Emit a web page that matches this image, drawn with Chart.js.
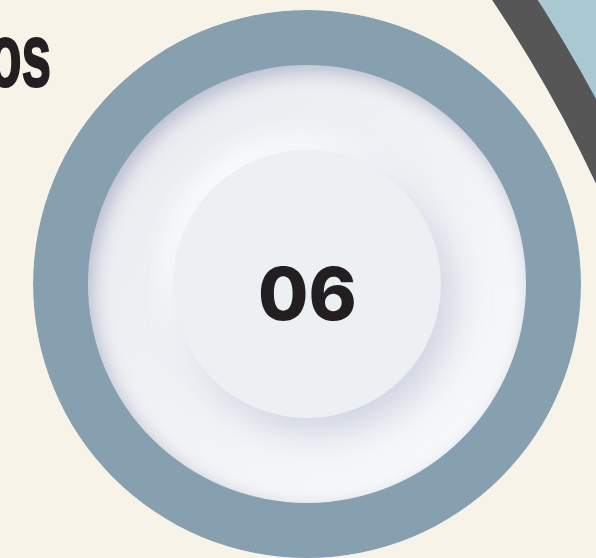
<!DOCTYPE html>
<html>
<head>
<meta charset="utf-8">
<script src="https://cdn.jsdelivr.net/npm/chart.js@4.4.1/dist/chart.umd.min.js"></script>
<style>
  html, body { margin: 0; padding: 0; }
  body { width: 596px; height: 558px; overflow: hidden; position: relative; background: #a9c8d2; }
  #bgChart { position: absolute; left: -2109px; top: -659px; }
  #dishChart { position: absolute; left: 33px; top: 10px; }
  .title-tail {
    position: absolute; left: -11px; top: 11px;
    font: bold 89px 'Liberation Sans Narrow', sans-serif; line-height: 1;
    color: #231f20; white-space: nowrap;
    transform: scaleX(0.6); transform-origin: 0 0;
    -webkit-text-stroke: 2px #231f20;
  }
</style>
</head>
<body>
<canvas id="bgChart" width="2876" height="2876"></canvas>
<canvas id="dishChart" width="548" height="548"></canvas>
<div class="title-tail" id="titleTail"></div>
<script>
'use strict';
// values
const titleTail = 'os'
const stepLabel = '06'
const bgLabels = ['Band']
const bgValues = [100]
const dishLabels = ['Step']
const dishValues = [100]

document.getElementById('titleTail').textContent = titleTail

const noChrome = {
  responsive: false,
  animation: false,
  events: [],
  cutout: 0,
  layout: { padding: 0 },
  plugins: { legend: { display: false }, tooltip: { enabled: false } }
}

// big arc in the top right corner
const ctxb = document.getElementById('bgChart')
const bgChart = new Chart(ctxb, {
  type: 'doughnut',
  data: {
    labels: bgLabels,
    datasets: [
      { data: bgValues, backgroundColor: '#565656', borderWidth: 0, weight: 38 },
      { data: bgValues, backgroundColor: '#f7f3e8', borderWidth: 0, weight: 1400 }
    ]
  },
  options: noChrome
})

function dishFill(c) {
  const area = c.chart.chartArea
  if (!area) return '#f1f2f6'
  const g = c.chart.ctx.createLinearGradient(area.left, area.top, area.right, area.bottom)
  g.addColorStop(0, '#e6e8ee')
  g.addColorStop(0.5, '#f0f2f5')
  g.addColorStop(1, '#fcfcfd')
  return g
}

const dishShading = {
  id: 'dishShading',
  beforeDatasetDraw(chart, args) {
    const ctx = chart.ctx
    const arc = args.meta.data[0]
    if (args.index === 0) {
      ctx.save()
      ctx.beginPath()
      ctx.arc(arc.x, arc.y, arc.outerRadius, 0, Math.PI * 2)
      ctx.clip()
      ctx.shadowColor = 'rgba(125,130,165,0.45)'
      ctx.shadowBlur = 18
      ctx.shadowOffsetX = 5
      ctx.shadowOffsetY = 7
    }
    if (args.index === 2) {
      ctx.save()
      ctx.shadowColor = 'rgba(255,255,255,1)'
      ctx.shadowBlur = 28
      ctx.shadowOffsetX = -10
      ctx.shadowOffsetY = -12
    }
  },
  afterDatasetDraw(chart, args) {
    const ctx = chart.ctx
    if (args.index === 0) ctx.restore()
    if (args.index === 2) {
      ctx.shadowColor = 'rgba(172,178,205,0.5)'
      ctx.shadowBlur = 34
      ctx.shadowOffsetX = 12
      ctx.shadowOffsetY = 14
      args.meta.data[0].draw(ctx)
      ctx.restore()
    }
  },
  afterDatasetsDraw(chart) {
    const ctx = chart.ctx
    const arc = chart.getDatasetMeta(2).data[0]
    ctx.save()
    ctx.font = '800 73px Inter, sans-serif'
    ctx.fillStyle = '#231f20'
    ctx.textAlign = 'center'
    ctx.textBaseline = 'alphabetic'
    ctx.fillText(stepLabel, arc.x + 0.5, arc.y + 36)
    ctx.restore()
  }
}

const ctxd = document.getElementById('dishChart')
const dishChart = new Chart(ctxd, {
  type: 'doughnut',
  data: {
    labels: dishLabels,
    datasets: [
      { data: dishValues, backgroundColor: '#87a0b0', borderWidth: 0, weight: 55, order: 2 },
      { data: dishValues, backgroundColor: dishFill, borderWidth: 0, weight: 85, order: 3 },
      { data: dishValues, backgroundColor: '#ecf0f3', borderWidth: 0, weight: 134, order: 1 }
    ]
  },
  options: noChrome,
  plugins: [dishShading]
})
</script>
</body>
</html>
